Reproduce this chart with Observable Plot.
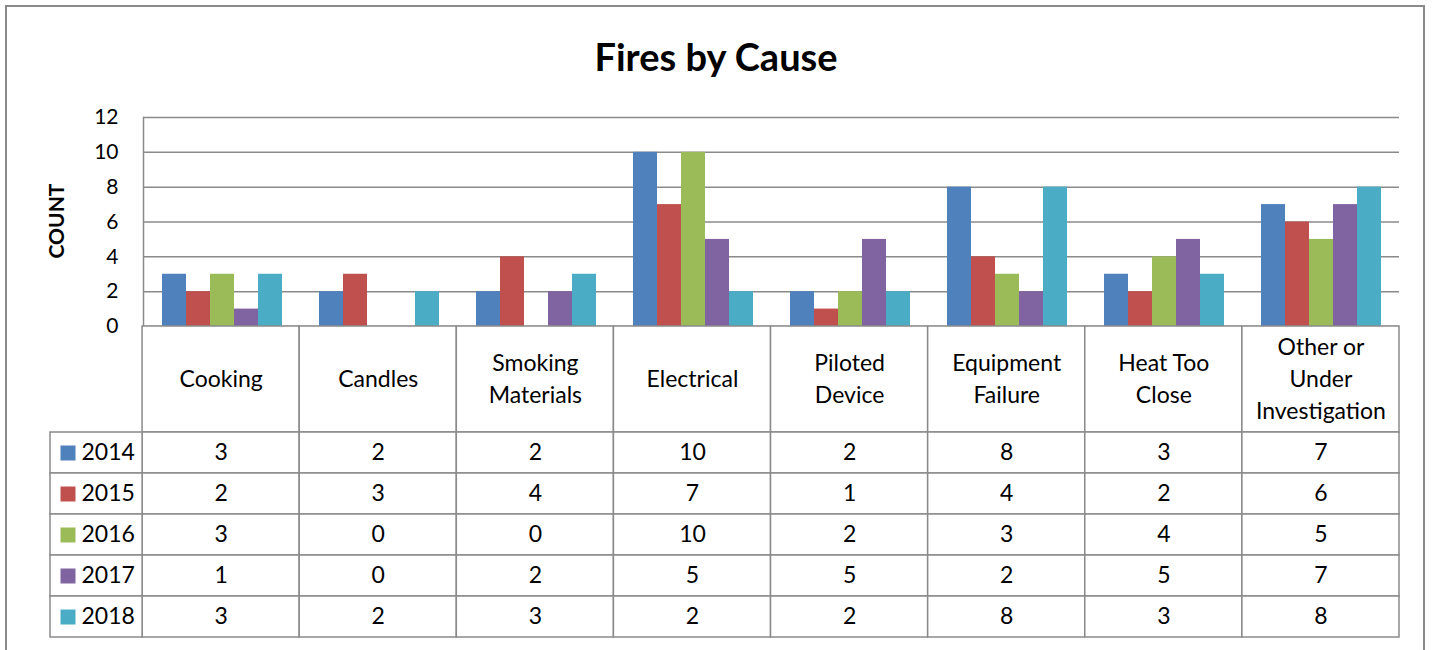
<!DOCTYPE html>
<html>
<head>
<meta charset="utf-8">
<script src="https://cdn.jsdelivr.net/npm/d3@7"></script>
<script src="https://cdn.jsdelivr.net/npm/@observablehq/plot@0.6"></script>
<style>
  html, body { margin: 0; padding: 0; background: #fff; }
  #wrap { position: relative; width: 1432px; height: 650px; overflow: hidden; font-family: Lato, "Open Sans", sans-serif; }
  #border { position: absolute; left: 5px; top: 5px; width: 1420px; height: 700px; border: 2px solid #8a8a8a; box-sizing: border-box; }
  #title { position: absolute; left: 0; width: 1432px; top: 33px; text-align: center; font-weight: bold; font-size: 38px; color: #000; }
  #ylabel { position: absolute; left: 55px; top: 221px; transform: translate(-50%, -50%) rotate(-90deg); font-weight: bold; font-size: 21px; color: #000; white-space: nowrap; }
  .layer { position: absolute; left: 0; }
</style>
</head>
<body>
<div id="wrap">
  <div id="border"></div>
  <div id="title">Fires by Cause</div>
  <div id="ylabel">COUNT</div>
</div>
<script>
const causes = ["Cooking", "Candles", "Smoking Materials", "Electrical", "Piloted Device", "Equipment Failure", "Heat Too Close", "Other or Under Investigation"];
const causeLabels = ["Cooking", "Candles", "Smoking\nMaterials", "Electrical", "Piloted\nDevice", "Equipment\nFailure", "Heat Too\nClose", "Other or\nUnder\nInvestigation"];
const years = ["2014", "2015", "2016", "2017", "2018"];
const v2014 = [3, 2, 2, 10, 2, 8, 3, 7];
const v2015 = [2, 3, 4, 7, 1, 4, 2, 6];
const v2016 = [3, 0, 0, 10, 2, 3, 4, 5];
const v2017 = [1, 0, 2, 5, 5, 2, 5, 7];
const v2018 = [3, 2, 3, 2, 2, 8, 3, 8];
const colors = ["#4F81BD", "#C0504D", "#9BBB59", "#8064A2", "#4BACC6"];
const yTicks = [0, 2, 4, 6, 8, 10, 12];

const series = [v2014, v2015, v2016, v2017, v2018];
const data = [];
series.forEach((vals, j) => vals.forEach((v, i) => data.push({cause: causes[i], year: years[j], count: v, row: j, col: i})));

const grid = "#8a8a8a";
const font = "Lato, 'Open Sans', sans-serif";

const bars = Plot.plot({
  width: 1432,
  height: 330,
  marginTop: 117,
  marginBottom: 4,
  marginLeft: 142,
  marginRight: 33,
  style: {fontFamily: font, fontSize: "21px", background: "transparent", overflow: "visible"},
  fx: {domain: causes, padding: 0, axis: null},
  x: {domain: years, paddingInner: 0, paddingOuter: 0.77, axis: null},
  y: {domain: [0, 12], ticks: yTicks},
  color: {domain: years, range: colors},
  marks: [
    Plot.gridY(yTicks, {stroke: grid, strokeOpacity: 1, strokeWidth: 1.5}),
    Plot.barY(data, {fx: "cause", x: "year", y: "count", fill: "year"}),
    Plot.axisY(yTicks, {tickSize: 0, tickPadding: 25, fontSize: 21, label: null, fill: "#000"}),
    Plot.frame({anchor: "left", facet: "super", stroke: grid, strokeWidth: 1.5})
  ]
});
bars.classList.add("layer");
bars.style.top = "0px";
document.getElementById("wrap").appendChild(bars);

const legendW = 92 / 157;
const headerH = 106 / 41;
const headerCells = causes.map((c, i) => ({col: i, label: causeLabels[i]}));
const rowsIdx = years.map((y, j) => ({row: j, year: y, color: colors[j]}));

const table = Plot.plot({
  width: 1432,
  height: 315,
  marginTop: 2,
  marginBottom: 2,
  marginLeft: 50,
  marginRight: 33,
  style: {fontFamily: font, fontSize: "23px", background: "transparent", overflow: "visible"},
  x: {domain: [-legendW, causes.length], axis: null},
  y: {domain: [-headerH, years.length], reverse: true, axis: null},
  marks: [
    Plot.rect(headerCells, {x1: d => d.col, x2: d => d.col + 1, y1: -headerH, y2: 0, fill: "white", stroke: grid, strokeWidth: 1.5}),
    Plot.rect(data, {x1: d => d.col, x2: d => d.col + 1, y1: d => d.row, y2: d => d.row + 1, fill: "white", stroke: grid, strokeWidth: 1.5}),
    Plot.rect(rowsIdx, {x1: -legendW, x2: 0, y1: d => d.row, y2: d => d.row + 1, fill: "white", stroke: grid, strokeWidth: 1.5}),
    Plot.text(headerCells, {x: d => d.col + 0.5, y: -headerH / 2, dy: -3, text: "label", fontSize: 23, lineHeight: 1.4, fill: "#000"}),
    Plot.text(data, {x: d => d.col + 0.5, y: d => d.row + 0.5, text: d => String(d.count), fontSize: 23, fill: "#000"}),
    Plot.dot(rowsIdx, {x: -legendW, y: d => d.row + 0.5, dx: 17.5, symbol: "square", r: 8.46, fill: d => d.color, stroke: "none"}),
    Plot.text(rowsIdx, {x: -legendW, y: d => d.row + 0.5, dx: 31, text: "year", textAnchor: "start", fontSize: 23, fill: "#000"})
  ]
});
table.classList.add("layer");
table.style.top = "324px";
document.getElementById("wrap").appendChild(table);
</script>
</body>
</html>
